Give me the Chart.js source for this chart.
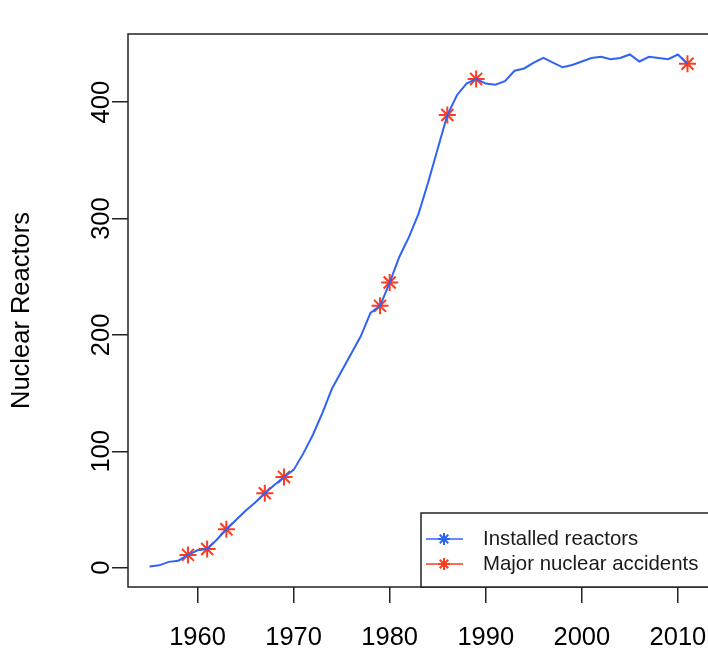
<!DOCTYPE html>
<html>
<head>
<meta charset="utf-8">
<script src="https://cdn.jsdelivr.net/npm/chart.js@4/dist/chart.umd.min.js"></script>
<style>
  html, body { margin: 0; padding: 0; background: #fff; overflow: hidden; }
  #wrap { width: 720px; height: 649px; }
</style>
</head>
<body>
<div id="wrap"><canvas id="c" width="720" height="649"></canvas></div>
<script>
// ---- data ----
const years = [1955,1956,1957,1958,1959,1960,1961,1962,1963,1964,1965,1966,1967,1968,1969,
  1970,1971,1972,1973,1974,1975,1976,1977,1978,1979,1980,1981,1982,1983,1984,1985,1986,1987,1988,1989,
  1990,1991,1992,1993,1994,1995,1996,1997,1998,1999,2000,2001,2002,2003,2004,2005,2006,2007,2008,2009,2010,2011];
const installedReactors = [1,2,5,6,11,15,16,24,33,41,49,56,64,71,78,
  84,98,114,133,154,169,184,199,219,225,245,267,284,304,331,360,389,406,416,420,
  416,415,418,427,429,434,438,434,430,432,435,438,439,437,438,441,435,439,438,437,441,433];
const accidentYears = [1959,1961,1963,1967,1969,1979,1980,1986,1989,2011];
const accidentValues = [11,16,33,64,78,225,245,389,420,433];
const xTickLabels = [1960,1970,1980,1990,2000,2010];
const yTickLabels = [0,100,200,300,400];
const seriesNames = ['Installed reactors','Major nuclear accidents'];
const yTitle = 'Nuclear Reactors';

const blue = '#2f63f5';
const red = '#ff3a1f';

Chart.defaults.font.family = "'Liberation Sans', Arial, sans-serif";
Chart.defaults.color = '#000';

const rBox = {
  id: 'rBox',
  afterDraw(chart) {
    const ctx = chart.ctx;
    const a = chart.chartArea;
    ctx.save();
    // plot frame
    ctx.strokeStyle = '#222';
    ctx.lineWidth = 1.5;
    ctx.strokeRect(a.left, a.top, a.right - a.left, a.bottom - a.top);
    // legend (bottom right, inside plot)
    const w = 288, h = 74;
    const bx = a.right - w, by = a.bottom - h;
    ctx.fillStyle = '#fff';
    ctx.fillRect(bx, by, w, h);
    ctx.strokeRect(bx, by, w, h);
    const rows = [by + h - 48, by + h - 23];
    chart.data.datasets.forEach((ds, i) => {
      const y = rows[i];
      ctx.strokeStyle = ds.legendColor;
      ctx.lineWidth = 1.5;
      ctx.beginPath();
      ctx.moveTo(bx + 5, y);
      ctx.lineTo(bx + 42, y);
      ctx.stroke();
      ctx.lineWidth = 2;
      Chart.helpers.drawPoint(ctx, {pointStyle: 'star', radius: 6, rotation: 0, borderWidth: 2}, bx + 23, y);
      ctx.fillStyle = '#1a1a1a';
      ctx.font = "20.4px 'Liberation Sans', Arial, sans-serif";
      ctx.textBaseline = 'middle';
      ctx.textAlign = 'left';
      ctx.fillText(ds.label, bx + 62, y);
    });
    ctx.restore();
  }
};

new Chart(document.getElementById('c'), {
  type: 'line',
  data: {
    datasets: [
      {
        label: seriesNames[0],
        data: years.map((yr, i) => ({x: yr, y: installedReactors[i]})),
        borderColor: blue,
        legendColor: blue,
        borderWidth: 2,
        pointRadius: 0,
        tension: 0,
        fill: false
      },
      {
        label: seriesNames[1],
        data: accidentYears.map((yr, i) => ({x: yr, y: accidentValues[i]})),
        borderColor: red,
        legendColor: red,
        showLine: false,
        pointStyle: 'star',
        pointRadius: 8.5,
        pointBorderWidth: 2,
        pointBorderColor: red,
        pointHoverRadius: 8.5
      }
    ]
  },
  options: {
    responsive: false,
    animation: false,
    events: [],
    layout: { padding: { left: 0, top: 34, right: 11, bottom: 0 } },
    plugins: { legend: { display: false }, tooltip: { enabled: false } },
    scales: {
      x: {
        type: 'linear',
        min: 1952.76,
        max: 2013.24,
        afterBuildTicks: s => { s.ticks = xTickLabels.map(v => ({value: v})); },
        afterFit: s => { s.height = 62; s.paddingLeft = 0; s.paddingRight = 0; },
        border: { display: false },
        grid: { drawOnChartArea: false, drawTicks: true, tickLength: 16, color: '#222', lineWidth: 1.5 },
        ticks: { font: { size: 25.5 }, color: '#000', padding: 20, maxRotation: 0, minRotation: 0,
                 callback: v => String(v) }
      },
      y: {
        type: 'linear',
        min: -16.6,
        max: 458.6,
        afterBuildTicks: s => { s.ticks = yTickLabels.map(v => ({value: v})); },
        afterFit: s => { s.width = 128; s.paddingTop = 0; s.paddingBottom = 0; },
        border: { display: false },
        grid: { drawOnChartArea: false, drawTicks: true, tickLength: 16, color: '#222', lineWidth: 1.5 },
        ticks: { font: { size: 25.5 }, color: '#000', padding: -11, minRotation: 90, maxRotation: 90,
                 crossAlign: 'center', callback: v => String(v) },
        title: { display: true, text: yTitle, font: { size: 25.5 }, color: '#000', padding: { top: 7, bottom: 0 } }
      }
    }
  },
  plugins: [rBox]
});
</script>
</body>
</html>
